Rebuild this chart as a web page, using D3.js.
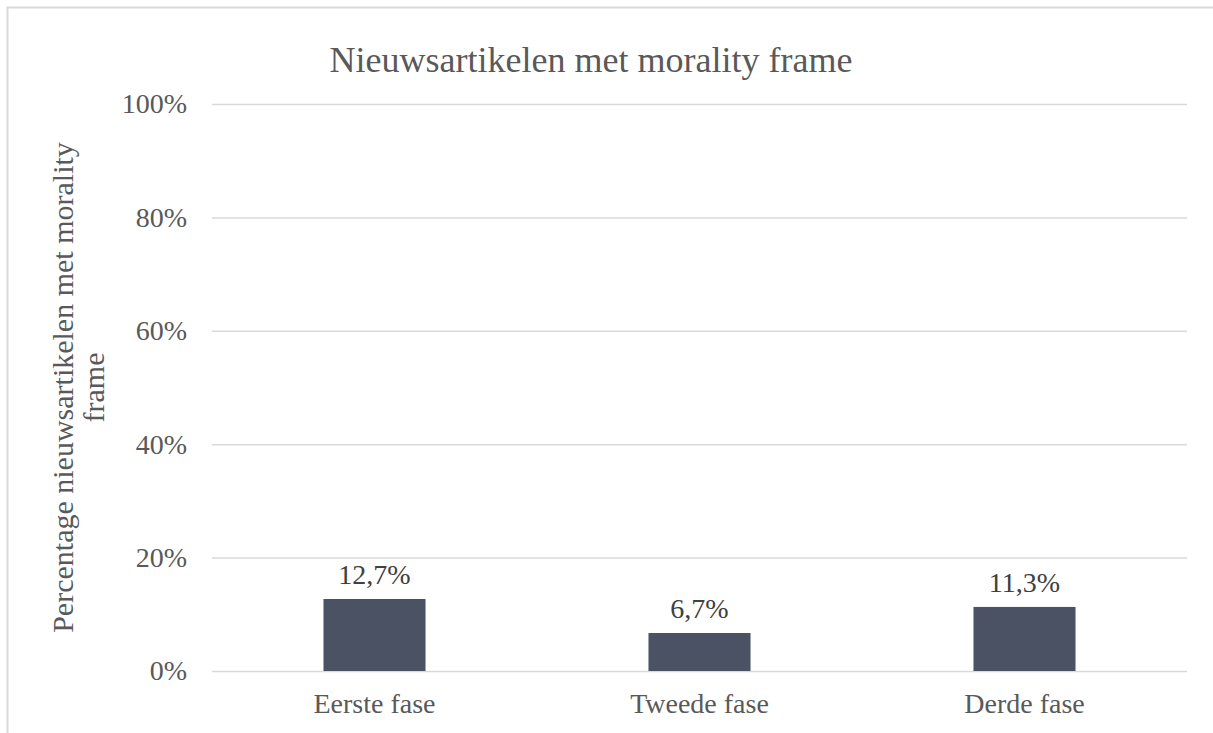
<!DOCTYPE html>
<html>
<head>
<meta charset="utf-8">
<script src="https://cdn.jsdelivr.net/npm/d3@7"></script>
<style>
  html, body { margin: 0; padding: 0; background: #fff; overflow: hidden; }
  svg { display: block; }
</style>
</head>
<body>
<div id="chart"></div>
<script>
// chart data
const categories = ["Eerste fase", "Tweede fase", "Derde fase"];
const values = [12.7, 6.7, 11.3];
const valueLabels = ["12,7%", "6,7%", "11,3%"];
const yTicks = [0, 20, 40, 60, 80, 100];

const W = 1213;
const H = 733;
const plot = { left: 212, right: 1187, top: 104, bottom: 671 };
const serif = "'Liberation Serif', 'Times New Roman', 'DejaVu Serif', serif";

const svg = d3
  .select("#chart")
  .append("svg")
  .attr("width", W)
  .attr("height", H)
  .attr("font-family", serif);

// chart box border (only top and left edges fall inside the picture)
svg
  .append("path")
  .attr("d", `M7.5,${H}V7.5H${W}`)
  .attr("fill", "none")
  .attr("stroke", "#d9d9d9")
  .attr("stroke-width", 2);

const x = d3
  .scaleBand()
  .domain(categories)
  .range([plot.left, plot.right])
  .paddingInner(0.686)
  .paddingOuter(0.343);

const y = d3.scaleLinear().domain([0, 100]).range([plot.bottom, plot.top]);

// gridlines + y labels
const yAxis = d3
  .axisLeft(y)
  .tickValues(yTicks)
  .tickSize(-(plot.right - plot.left))
  .tickPadding(25)
  .tickFormat((d) => d + "%");

const gy = svg
  .append("g")
  .attr("transform", `translate(${plot.left},0)`)
  .call(yAxis)
  .attr("font-family", serif);
gy.select(".domain").remove();
gy.selectAll(".tick line").attr("stroke", "#d9d9d9").attr("stroke-width", 1.5);
gy.selectAll(".tick text").style("font-size", "28px").attr("fill", "#595959");

// bars
svg
  .selectAll(".bar")
  .data(values)
  .enter()
  .append("rect")
  .attr("class", "bar")
  .attr("x", (d, i) => x(categories[i]))
  .attr("y", (d) => y(d))
  .attr("width", x.bandwidth())
  .attr("height", (d) => y(0) - y(d))
  .attr("fill", "#4b5263");

// value labels
svg
  .selectAll(".vlabel")
  .data(values)
  .enter()
  .append("text")
  .attr("x", (d, i) => x(categories[i]) + x.bandwidth() / 2)
  .attr("y", (d) => y(d) - 15)
  .attr("text-anchor", "middle")
  .style("font-size", "28px")
  .attr("fill", "#404040")
  .text((d, i) => valueLabels[i]);

// x axis labels
const xAxis = d3.axisBottom(x).tickSize(0).tickPadding(22);
const gx = svg
  .append("g")
  .attr("transform", `translate(0,${plot.bottom})`)
  .call(xAxis)
  .attr("font-family", serif);
gx.select(".domain").remove();
gx.selectAll(".tick text").style("font-size", "28px").attr("fill", "#595959");

// title
svg
  .append("text")
  .attr("x", 591)
  .attr("y", 72)
  .attr("text-anchor", "middle")
  .style("font-size", "36px")
  .attr("fill", "#595959")
  .text("Nieuwsartikelen met morality frame");

// y axis title, two lines
const yt = svg
  .append("text")
  .attr("transform", `translate(73, ${(plot.top + plot.bottom) / 2})rotate(-90)`)
  .attr("text-anchor", "middle")
  .attr("fill", "#595959")
  .style("font-size", "30px");
yt.append("tspan").attr("x", 0).attr("dy", 0).text("Percentage nieuwsartikelen met morality");
yt.append("tspan").attr("x", 0).attr("dy", 31).text("frame");
</script>
</body>
</html>
